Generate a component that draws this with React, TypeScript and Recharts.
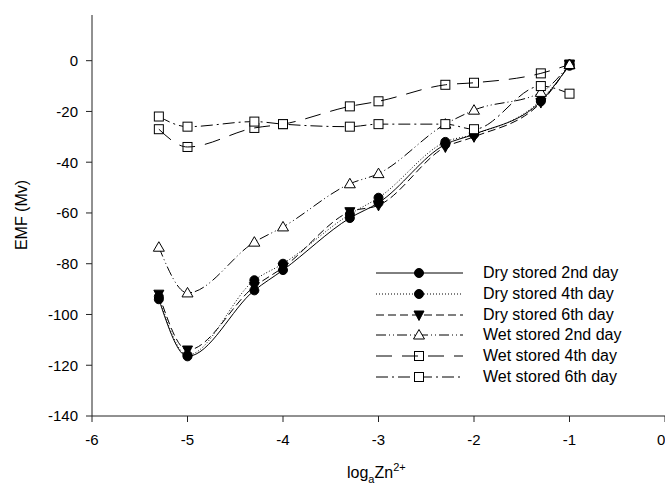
import React from 'react';
import { LineChart, Line, XAxis, YAxis, Legend } from 'recharts';

// log a Zn2+ positions
const logZn = [-5.3, -5, -4.3, -4, -3.3, -3, -2.3, -2, -1.3, -1];

const dry2 = [-94, -116.5, -90.5, -82.5, -62, -56, -33, -29, -16, -1.5];
const dry4 = [-93, -116, -86.5, -80, -60.5, -54, -32, -29, -15.5, -2];
const dry6 = [-92, -114, -89, -81.5, -59.5, -57, -34, -30, -16.5, -1.5];
const wet2 = [-73.5, -91.5, -71.5, -65.5, -48.5, -44.5, -25, -19.5, -12.5, -1.5];
const wet4 = [-27, -34, -26.5, -25, -18, -16, -9.5, -8.7, -5, -1.5];
const wet6 = [-22, -26, -24, -25, -26, -25, -25, -27, -10, -13];

const xTicks = [-6, -5, -4, -3, -2, -1, 0];
const yTicks = [-140, -120, -100, -80, -60, -40, -20, 0];

const FONT = '"Liberation Sans", Arial, sans-serif';

const data = logZn.map((x, i) => ({
  x,
  dry2: dry2[i],
  dry4: dry4[i],
  dry6: dry6[i],
  wet2: wet2[i],
  wet4: wet4[i],
  wet6: wet6[i],
}));

type Marker = 'circle' | 'triDown' | 'triUp' | 'squareOpen' | 'square';

function drawMarker(kind: Marker, cx: number, cy: number, key?: string | number) {
  switch (kind) {
    case 'circle':
      return <circle key={key} cx={cx} cy={cy} r={4.5} fill="#000" stroke="#000" />;
    case 'triDown':
      return (
        <polygon
          key={key}
          points={`${cx - 5},${cy - 4} ${cx + 5},${cy - 4} ${cx},${cy + 5.5}`}
          fill="#000"
          stroke="#000"
        />
      );
    case 'triUp':
      return (
        <polygon
          key={key}
          points={`${cx},${cy - 5.5} ${cx - 5.5},${cy + 4} ${cx + 5.5},${cy + 4}`}
          fill="#fff"
          stroke="#000"
        />
      );
    case 'squareOpen':
      return <rect key={key} x={cx - 4.5} y={cy - 4.5} width={9} height={9} fill="none" stroke="#000" />;
    default:
      return <rect key={key} x={cx - 4.5} y={cy - 4.5} width={9} height={9} fill="#fff" stroke="#000" />;
  }
}

const series: { key: string; name: string; dash: string; marker: Marker }[] = [
  { key: 'dry2', name: 'Dry stored 2nd day', dash: '', marker: 'circle' },
  { key: 'dry4', name: 'Dry stored 4th day', dash: '1 2', marker: 'circle' },
  { key: 'dry6', name: 'Dry stored 6th day', dash: '8 4', marker: 'triDown' },
  { key: 'wet2', name: 'Wet stored 2nd day', dash: '10 3 1 3 1 3', marker: 'triUp' },
  { key: 'wet4', name: 'Wet stored 4th day', dash: '16 10', marker: 'squareOpen' },
  { key: 'wet6', name: 'Wet stored 6th day', dash: '12 4 2 4', marker: 'square' },
];

function LegendBox() {
  return (
    <div style={{ fontFamily: FONT, fontSize: 16, color: '#000' }}>
      {series.map((s) => (
        <div key={s.key} style={{ display: 'flex', alignItems: 'center', height: 20.7 }}>
          <svg width={107} height={20} style={{ display: 'block' }}>
            <line x1={0} y1={10} x2={87} y2={10} stroke="#000" strokeDasharray={s.dash || undefined} />
            {drawMarker(s.marker, 43, 10)}
          </svg>
          <span style={{ lineHeight: '20px' }}>{s.name}</span>
        </div>
      ))}
    </div>
  );
}

export default function App() {
  return (
    <div style={{ position: 'absolute', left: 0, top: 0, background: '#fff' }}>
      <LineChart width={665} height={485} data={data} margin={{ top: 15, right: 0, left: 0, bottom: 0 }}>
        <XAxis
          xAxisId="top"
          orientation="top"
          dataKey="x"
          type="number"
          domain={[-6, 0]}
          height={0}
          tick={false}
          tickLine={false}
          stroke="#222"
        />
        <XAxis
          dataKey="x"
          type="number"
          domain={[-6, 0]}
          ticks={xTicks}
          height={69}
          tickSize={6}
          tickMargin={12}
          stroke="#222"
          tick={{ fontSize: 15, fill: '#000', fontFamily: FONT }}
          label={{
            content: () => (
              <text x={347} y={478} fontSize={16} fontFamily={FONT} fill="#000">
                log
                <tspan dy={5} fontSize={11}>a</tspan>
                <tspan dy={-5}>Zn</tspan>
                <tspan dy={-7} fontSize={11}>2+</tspan>
              </text>
            ),
          }}
        />
        <YAxis
          type="number"
          domain={[-140, 18]}
          ticks={yTicks}
          width={92}
          tickSize={6}
          tickMargin={8}
          stroke="#222"
          tick={{ fontSize: 15, fill: '#000', fontFamily: FONT }}
          label={{
            content: () => (
              <text
                x={21}
                y={215}
                transform="rotate(-90, 21, 215)"
                textAnchor="middle"
                dominantBaseline="central"
                fontSize={16}
                fontFamily={FONT}
                fill="#000"
              >
                EMF (Mv)
              </text>
            ),
          }}
        />
        <Legend
          layout="vertical"
          align="center"
          verticalAlign="middle"
          wrapperStyle={{ left: 376, top: 263, width: 289 }}
          content={() => <LegendBox />}
        />
        {series.map((s) => (
          <Line
            key={s.key}
            dataKey={s.key}
            name={s.name}
            type="monotone"
            stroke="#000"
            strokeWidth={1}
            strokeDasharray={s.dash || undefined}
            isAnimationActive={false}
            dot={(p: any) => drawMarker(s.marker, p.cx, p.cy, `${s.key}-${p.index}`)}
            activeDot={false}
          />
        ))}
      </LineChart>
    </div>
  );
}
